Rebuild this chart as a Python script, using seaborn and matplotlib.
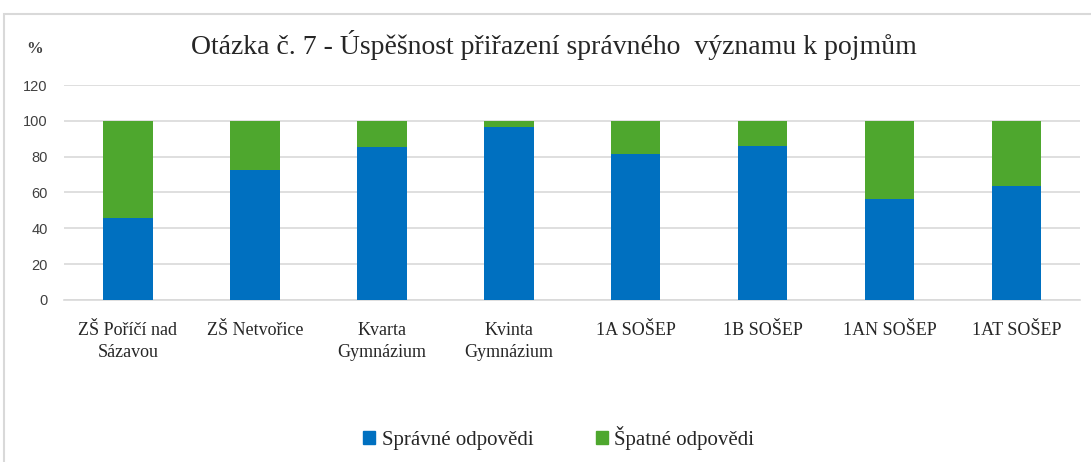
import pandas as pd
import seaborn as sns
import matplotlib.pyplot as plt
from matplotlib.patches import Rectangle, Patch

# Data
skoly = ['ZŠ Poříčí nad\nSázavou', 'ZŠ Netvořice', 'Kvarta\nGymnázium',
         'Kvinta\nGymnázium', '1A SOŠEP', '1B SOŠEP', '1AN SOŠEP', '1AT SOŠEP']
spravne = [45.5, 72.4, 85.2, 96.3, 81.6, 85.7, 56.4, 63.5]
spatne = [54.5, 27.6, 14.8, 3.7, 18.4, 14.3, 43.6, 36.5]
y_ticks = [0, 20, 40, 60, 80, 100, 120]

blue = '#0070c0'
green = '#4ea72e'

df = pd.DataFrame({'skola': skoly, 'spravne': spravne, 'spatne': spatne})
df['celkem'] = df['spravne'] + df['spatne']

sns.set_style('white')
plt.rcParams['font.family'] = ['Liberation Serif', 'DejaVu Serif']

fig = plt.figure(figsize=(10.91, 4.62), dpi=100)
ax = fig.add_axes([0.059, 0.351, 0.931, 0.465])

# stacked bars: total (green) underneath, correct answers (blue) on top
sns.barplot(data=df, x='skola', y='celkem', color=green, width=0.39,
            saturation=1, linewidth=0, ax=ax, zorder=2)
sns.barplot(data=df, x='skola', y='spravne', color=blue, width=0.39,
            saturation=1, linewidth=0, ax=ax, zorder=3)

ax.set_ylim(0, 120)
ax.set_yticks(y_ticks)
ax.set_yticklabels([str(t) for t in y_ticks], family='Liberation Sans',
                   fontsize=10.5, color='#404040')
ax.yaxis.grid(True, color='#d9d9d9', linewidth=1.2, zorder=0)
ax.set_axisbelow(True)
ax.tick_params(axis='y', length=0, pad=12)
ax.tick_params(axis='x', length=0, pad=16)
for lab in ax.get_xticklabels():
    lab.set_fontsize(13)
    lab.set_multialignment('center')
    lab.set_linespacing(1.35)
ax.set_xlabel('')
ax.set_ylabel('')
for s in ['top', 'right', 'left']:
    ax.spines[s].set_visible(False)
ax.spines['bottom'].set_color('#d9d9d9')
ax.spines['bottom'].set_linewidth(1.2)

fig.text(0.508, 0.902, 'Otázka č. 7 - Úspěšnost přiřazení správného  významu k pojmům',
         ha='center', va='center', fontsize=20)
fig.text(0.032, 0.895, '%', ha='center', va='center', fontsize=12,
         fontweight='bold', color='#404040')

handles = [Patch(color=blue), Patch(color=green)]
fig.legend(handles, ['Správné odpovědi', 'Špatné odpovědi'], loc='center',
           bbox_to_anchor=(0.512, 0.052), ncol=2, frameon=False, fontsize=15,
           handlelength=0.6, handleheight=0.6, handletextpad=0.3,
           columnspacing=3.0)

# light chart border
fig.patches.append(Rectangle((0.004, -0.05), 1.1, 1.02, transform=fig.transFigure,
                             fill=False, edgecolor='#d9d9d9', linewidth=1.5))

fig.savefig('out.png', dpi=100)
